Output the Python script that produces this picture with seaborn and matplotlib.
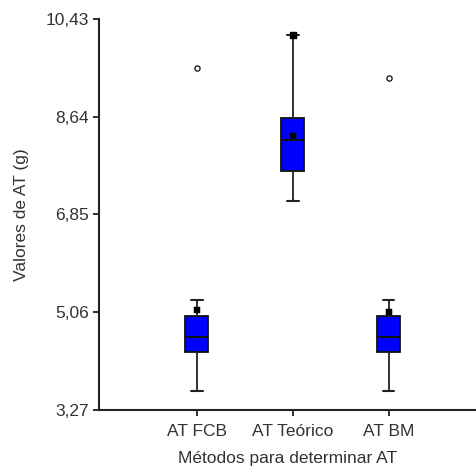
import matplotlib
matplotlib.use('Agg')
import matplotlib.pyplot as plt
import seaborn as sns
import pandas as pd

# valores
categorias = ['AT FCB', 'AT Teórico', 'AT BM']
whisker_baixo = [3.61, 7.10, 3.61]
q1 = [4.33, 7.65, 4.33]
mediana = [4.60, 8.22, 4.60]
q3 = [4.99, 8.61, 4.99]
whisker_alto = [5.28, 10.14, 5.28]
media = [5.10, 8.28, 5.07]
outliers = [[9.54], [], [9.35]]
maximo_marcado = [None, 10.14, None]

ticks_y = [3.27, 5.06, 6.85, 8.64, 10.43]
ticks_y_txt = ['3,27', '5,06', '6,85', '8,64', '10,43']

sns.set_style('ticks')
plt.rcParams['font.family'] = ['Liberation Sans', 'DejaVu Sans']

fig = plt.figure(figsize=(4.77, 4.70), dpi=100)
ax = fig.add_axes([0.2075, 0.1277, 0.7925, 0.8319])

stats = []
for i, c in enumerate(categorias):
    stats.append({'label': c, 'whislo': whisker_baixo[i], 'q1': q1[i],
                  'med': mediana[i], 'q3': q3[i], 'whishi': whisker_alto[i],
                  'fliers': []})

ax.bxp(stats, positions=range(len(categorias)), widths=0.24, patch_artist=True,
       showfliers=False,
       boxprops=dict(facecolor='#0000ff', edgecolor='#111111', linewidth=1.3),
       medianprops=dict(color='#111111', linewidth=1.5),
       whiskerprops=dict(color='#222222', linewidth=1.3),
       capprops=dict(color='#222222', linewidth=1.5))

df_media = pd.DataFrame({'x': range(len(categorias)), 'y': media})
sns.scatterplot(data=df_media, x='x', y='y', marker='s', s=20, color='black',
                edgecolor='black', ax=ax, zorder=5)

px, py = [], []
for i, lst in enumerate(outliers):
    for v in lst:
        px.append(i)
        py.append(v)
for i, v in enumerate(maximo_marcado):
    if v is not None:
        ax.scatter([i], [v], marker='s', s=20, color='black', zorder=5)
sns.scatterplot(x=px, y=py, marker='o', s=14, facecolor='white',
                edgecolor='#222222', linewidth=1.0, ax=ax, zorder=5)

ax.set_xlim(-1.02, 2.92)
ax.set_ylim(3.27, 10.43)
ax.set_yticks(ticks_y)
ax.set_yticklabels(ticks_y_txt)
ax.set_xticks(range(len(categorias)))
ax.set_xticklabels(categorias)
ax.tick_params(axis='both', labelsize=12.5, colors='#222222', length=4,
               width=1.3, labelcolor='#333333')
ax.tick_params(axis='x', pad=6)
for s in ['left', 'bottom']:
    ax.spines[s].set_linewidth(1.5)
    ax.spines[s].set_color('#222222')
sns.despine(ax=ax)

ax.set_xlabel('Métodos para determinar AT', fontsize=12.5, color='#333333', labelpad=9)
ax.set_ylabel('Valores de AT (g)', fontsize=12.5, color='#333333', labelpad=12)

plt.savefig('out.png', dpi=100)
